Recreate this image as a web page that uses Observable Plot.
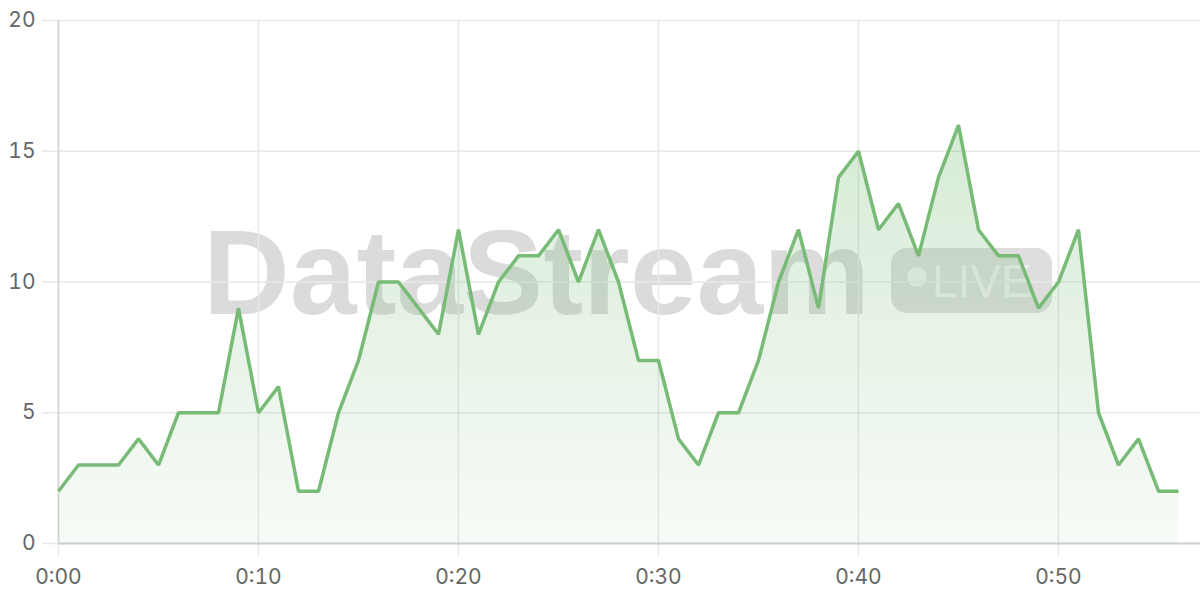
<!DOCTYPE html>
<html>
<head>
<meta charset="utf-8">
<script src="https://cdn.jsdelivr.net/npm/d3@7"></script>
<script src="https://cdn.jsdelivr.net/npm/@observablehq/plot@0.6"></script>
<style>
  html, body { margin: 0; padding: 0; background: #fff; }
  #wrap { position: relative; width: 1200px; height: 600px; background: #fff; overflow: hidden; }
  #chart { position: absolute; left: 0; top: 0; z-index: 1; }
  #chart svg { background: transparent !important; }
  .wm { position: absolute; z-index: 0; white-space: nowrap; pointer-events: none; }
  .wm-title { left: 203px; top: 212px; font: bold 120px "Liberation Sans", Arial, sans-serif; line-height: 120px; color: rgba(0,0,0,0.14); }
  .wm-badge { left: 891px; top: 248px; width: 161px; height: 65px; border-radius: 16px; background: rgba(0,0,0,0.13); }
  .wm-dot { position: absolute; left: 16px; top: 19px; width: 20px; height: 20px; border-radius: 50%; background: rgba(255,255,255,0.6); }
  .wm-live { position: absolute; left: 41px; top: 10px; font: 46px "Liberation Sans", Arial, sans-serif; line-height: 46px; color: rgba(255,255,255,0.6); }
</style>
</head>
<body>
<div id="wrap">
  <div class="wm wm-title">DataStream</div>
  <div class="wm wm-badge"><div class="wm-dot"></div><div class="wm-live">LIVE</div></div>
  <div id="chart"></div>
</div>
<script>
// Minutes elapsed (x) and measured values (y)
const minutes = [0,1,2,3,4,5,6,7,8,9,10,11,12,13,14,15,16,17,18,19,20,21,22,23,24,25,26,27,28,29,30,31,32,33,34,35,36,37,38,39,40,41,42,43,44,45,46,47,48,49,50,51,52,53,54,55,56];
const values  = [2,3,3,3,4,3,5,5,5,9,5,6,2,2,5,7,10,10,9,8,12,8,10,11,11,12,10,12,10,7,7,4,3,5,5,7,10,12,9,14,15,12,13,11,14,16,12,11,11,9,10,12,5,3,4,2,2];

const xTicks = [0, 10, 20, 30, 40, 50];
const xTickLabels = ["0:00", "0:10", "0:20", "0:30", "0:40", "0:50"];
const yTicks = [0, 5, 10, 15, 20];

const data = minutes.map((m, i) => ({minute: m, value: values[i]}));

const lineColor = "#77bb77";
const gridColor = "#e8e8e8";

const gradientDefs = () => {
  const defs = d3.create("svg:defs");
  const g = defs.append("linearGradient").attr("id", "areaGrad")
    .attr("x1", 0).attr("y1", 0).attr("x2", 0).attr("y2", 1);
  g.append("stop").attr("offset", "0%").attr("stop-color", lineColor).attr("stop-opacity", 0.3);
  g.append("stop").attr("offset", "100%").attr("stop-color", lineColor).attr("stop-opacity", 0.06);
  return defs.node();
};

const chart = Plot.plot({
  width: 1200,
  height: 600,
  marginLeft: 58,
  marginRight: 0,
  marginTop: 20,
  marginBottom: 57,
  style: { fontFamily: "Inter, 'Liberation Sans', sans-serif", fontSize: "21px", color: "#666", background: "transparent" },
  x: { domain: [0, 57.1], label: null },
  y: { domain: [0, 20], label: null },
  marks: [
    gradientDefs,
    Plot.gridY(yTicks, { stroke: gridColor, strokeOpacity: 1, strokeWidth: 1.5 }),
    Plot.gridX(xTicks, { stroke: gridColor, strokeOpacity: 1, strokeWidth: 1.5 }),
    Plot.axisY(yTicks, { tickSize: 16, stroke: gridColor, strokeWidth: 1.5, tickPadding: 7, fill: "#666", label: null }),
    Plot.axisX(xTicks, { tickSize: 14, stroke: gridColor, strokeWidth: 1.5, tickPadding: 12, fill: "#666", label: null,
      tickFormat: (d) => xTickLabels[xTicks.indexOf(d)] }),
    Plot.ruleX([0], { stroke: "#d4d4d4", strokeWidth: 1.5 }),
    Plot.ruleY([0], { stroke: "#cfcfcf", strokeWidth: 2 }),
    Plot.areaY(data, { x: "minute", y: "value", fill: "url(#areaGrad)" }),
    Plot.lineY(data, { x: "minute", y: "value", stroke: lineColor, strokeWidth: 3.5, strokeLinejoin: "miter", strokeLinecap: "butt" })
  ]
});

document.getElementById("chart").appendChild(chart);
</script>
</body>
</html>
